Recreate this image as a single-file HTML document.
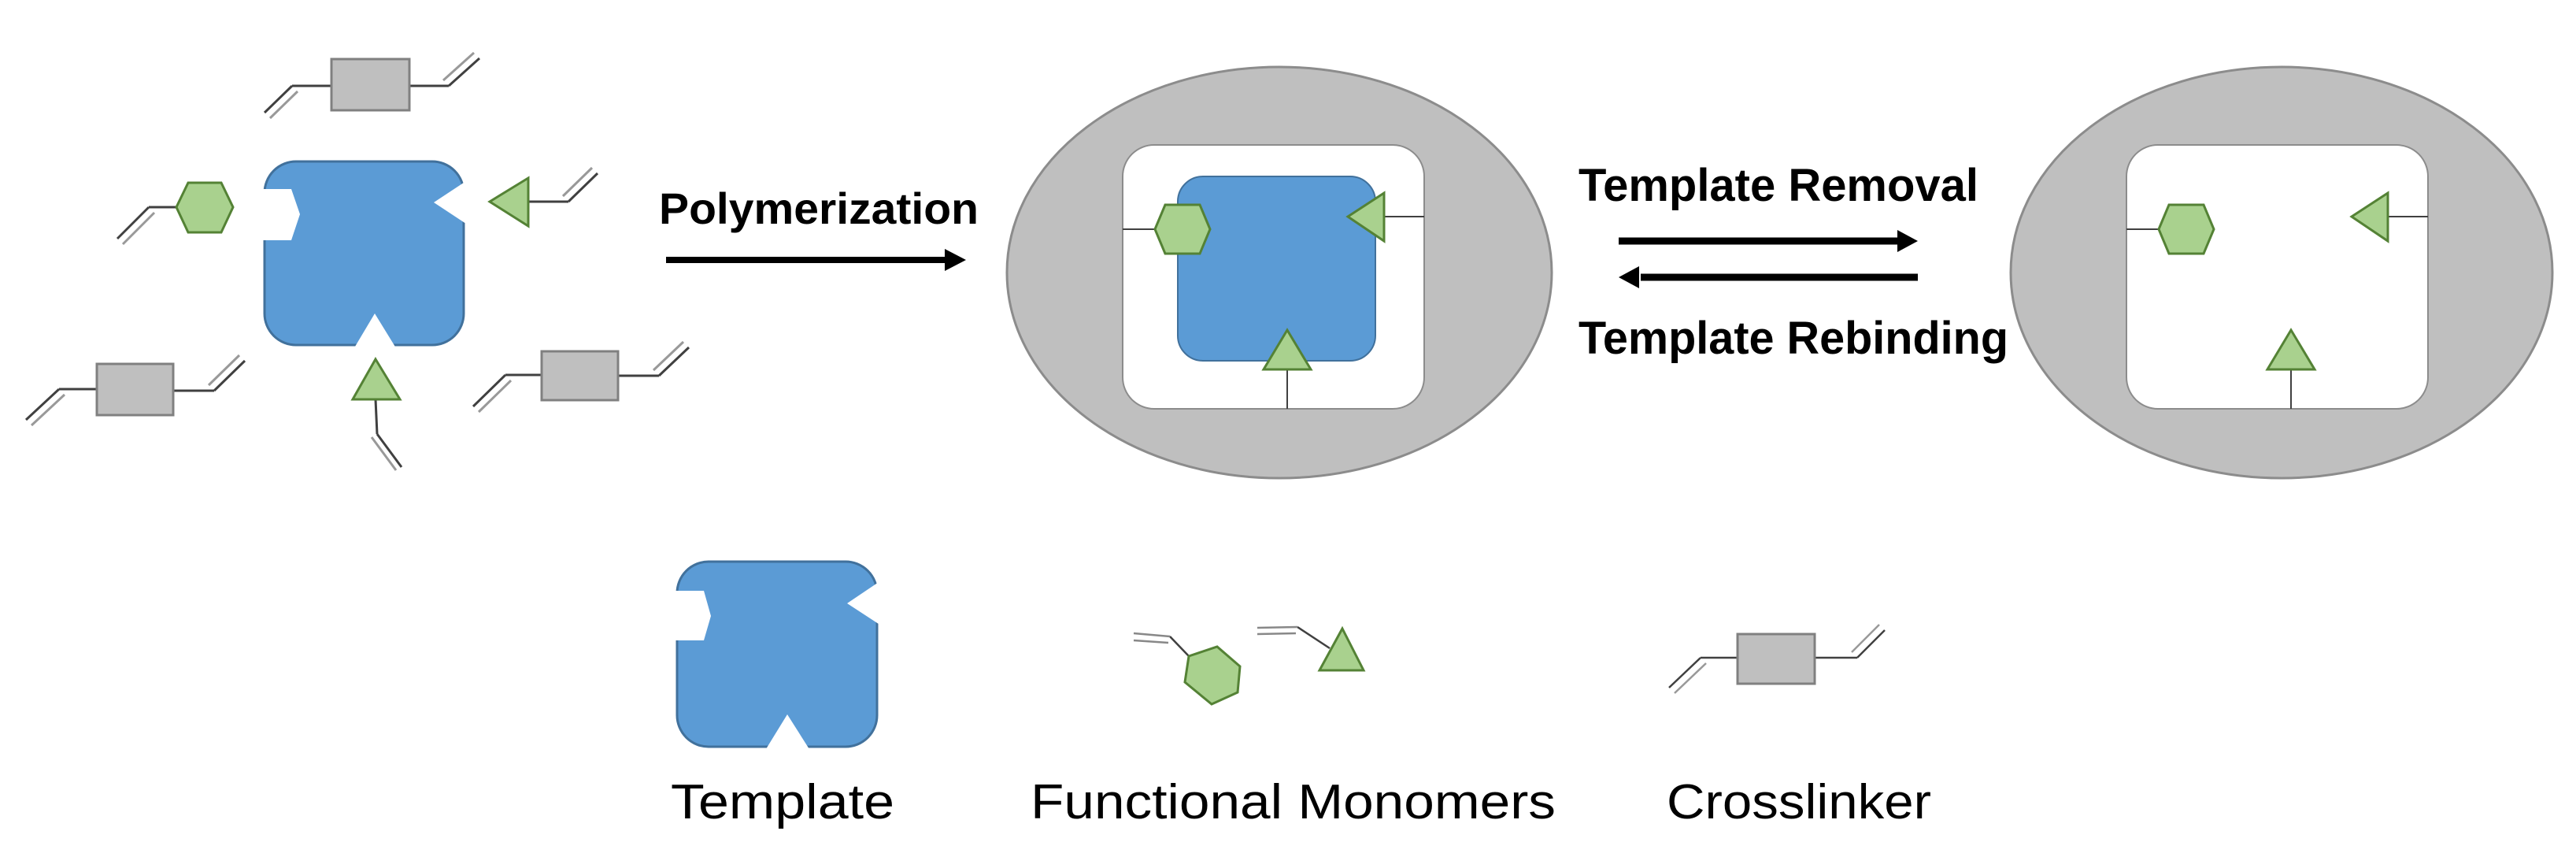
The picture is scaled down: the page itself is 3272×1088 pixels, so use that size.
<!DOCTYPE html>
<html><head><meta charset="utf-8"><style>html,body{margin:0;padding:0;background:#fff}svg{display:block}</style></head>
<body>
<svg width="3272" height="1088" viewBox="0 0 3272 1088" xmlns="http://www.w3.org/2000/svg">
<defs>
<g id="dbl"><line x1="0" y1="0" x2="0" y2="0"/></g>
</defs>
<g stroke="#404040" stroke-width="3" fill="none">
<!-- crosslinker top -->
<polyline points="421,109 371,109"/><line x1="371" y1="109" x2="336" y2="143"/><line x1="378" y1="116" x2="343" y2="150" stroke="#999"/>
<polyline points="520,109 570,109"/><line x1="570" y1="109" x2="609" y2="74"/><line x1="563" y1="102" x2="602" y2="67" stroke="#999"/>
<!-- bottom-left crosslinker -->
<line x1="123" y1="494" x2="75" y2="494"/><line x1="75" y1="494" x2="33" y2="533"/><line x1="82" y1="501" x2="40" y2="540" stroke="#999"/>
<line x1="220" y1="496" x2="272" y2="496"/><line x1="272" y1="496" x2="311" y2="458"/><line x1="265" y1="489" x2="304" y2="451" stroke="#999"/>
<!-- bottom-right crosslinker -->
<line x1="688" y1="476" x2="642" y2="476"/><line x1="642" y1="476" x2="601" y2="516"/><line x1="649" y1="483" x2="608" y2="523" stroke="#999"/>
<line x1="785" y1="477" x2="837" y2="477"/><line x1="837" y1="477" x2="875" y2="441"/><line x1="830" y1="470" x2="868" y2="434" stroke="#999"/>
<!-- hex monomer line -->
<line x1="224" y1="263" x2="189" y2="263"/><line x1="189" y1="263" x2="149" y2="303"/><line x1="196" y1="270" x2="156" y2="310" stroke="#999"/>
<!-- right tri monomer -->
<line x1="671" y1="256" x2="722" y2="256"/><line x1="722" y1="256" x2="759" y2="220"/><line x1="715" y1="249" x2="752" y2="213" stroke="#999"/>
<!-- bottom tri monomer -->
<line x1="477" y1="507" x2="479" y2="551"/><line x1="479" y1="551" x2="510" y2="593"/><line x1="472" y1="555" x2="503" y2="597" stroke="#999"/>
</g>
<!-- crosslinker boxes -->
<g fill="#bfbfbf" stroke="#808080" stroke-width="3">
<rect x="421" y="75" width="99" height="65"/>
<rect x="123" y="462" width="97" height="65"/>
<rect x="688" y="446" width="97" height="62"/>
<rect x="2207" y="805" width="98" height="63"/>
</g>
<!-- main template -->
<rect x="336" y="205" width="253" height="233" rx="40" fill="#5b9bd5" stroke="#41719c" stroke-width="3"/>
<g fill="#fff">
<polygon points="307,272 317,240 370,240 381,272 370,305 317,305"/>
<polygon points="551,257 601,224 601,290"/>
<polygon points="476,398 508,450 445,450"/>
</g>
<g fill="#a9d18e" stroke="#548235" stroke-width="3">
<polygon points="224,263 239,232 281,232 296,263 281,295 239,295"/>
<polygon points="622,256 671,226 671,287"/>
<polygon points="477,456 508,507 448,507"/>
</g>
<!-- Polymerization arrow -->
<text x="837" y="284" font-family="Liberation Sans, sans-serif" font-weight="bold" font-size="56" textLength="406" lengthAdjust="spacingAndGlyphs">Polymerization</text>
<line x1="846" y1="330" x2="1205" y2="330" stroke="#000" stroke-width="8"/>
<polygon points="1227,330 1200,316 1200,344" fill="#000"/>
<!-- ellipse 1 -->
<ellipse cx="1625" cy="346" rx="346" ry="261" fill="#bfbfbf" stroke="#8c8c8c" stroke-width="3"/>
<rect x="1426" y="184" width="383" height="335" rx="40" fill="#fff" stroke="#8c8c8c" stroke-width="2"/>
<rect x="1496" y="224" width="251" height="234" rx="32" fill="#5b9bd5" stroke="#41719c" stroke-width="2"/>
<g stroke="#404040" stroke-width="2"><line x1="1426" y1="291" x2="1467" y2="291"/><line x1="1758" y1="275" x2="1809" y2="275"/><line x1="1635" y1="469" x2="1635" y2="519"/></g>
<g fill="#a9d18e" stroke="#548235" stroke-width="3">
<polygon points="1467,291 1480,260 1524,260 1537,291 1524,322 1480,322"/>
<polygon points="1712,275 1758,245 1758,306"/>
<polygon points="1635,419 1665,469 1605,469"/>
</g>
<!-- reversible arrows -->
<text x="2005" y="255" font-family="Liberation Sans, sans-serif" font-weight="bold" font-size="58" textLength="508" lengthAdjust="spacingAndGlyphs">Template Removal</text>
<line x1="2056" y1="306" x2="2412" y2="306" stroke="#000" stroke-width="9"/>
<polygon points="2436,306 2410,292 2410,320" fill="#000"/>
<line x1="2084" y1="352" x2="2436" y2="352" stroke="#000" stroke-width="9"/>
<polygon points="2056,352 2082,338 2082,366" fill="#000"/>
<text x="2005" y="449" font-family="Liberation Sans, sans-serif" font-weight="bold" font-size="58" textLength="546" lengthAdjust="spacingAndGlyphs">Template Rebinding</text>
<!-- ellipse 2 -->
<ellipse cx="2898" cy="346" rx="344" ry="261" fill="#bfbfbf" stroke="#8c8c8c" stroke-width="3"/>
<rect x="2701" y="184" width="383" height="335" rx="40" fill="#fff" stroke="#8c8c8c" stroke-width="2"/>
<g stroke="#404040" stroke-width="2"><line x1="2701" y1="291" x2="2742" y2="291"/><line x1="3033" y1="275" x2="3084" y2="275"/><line x1="2910" y1="469" x2="2910" y2="519"/></g>
<g fill="#a9d18e" stroke="#548235" stroke-width="3">
<polygon points="2742,291 2755,260 2799,260 2812,291 2799,322 2755,322"/>
<polygon points="2987,275 3033,245 3033,306"/>
<polygon points="2910,419 2940,469 2880,469"/>
</g>
<!-- legend template -->
<rect x="860" y="713" width="254" height="235" rx="40" fill="#5b9bd5" stroke="#41719c" stroke-width="3"/>
<g fill="#fff">
<polygon points="830,782 838,750 894,750 903,782 894,813 838,813"/>
<polygon points="1076,766 1125,733 1125,798"/>
<polygon points="1000,907 1033,959 968,959"/>
</g>
<!-- legend monomers -->
<g stroke="#404040" stroke-width="2.5" fill="none">
<line x1="1510" y1="833" x2="1486" y2="808"/><line x1="1486" y1="808" x2="1440" y2="804" stroke="#888"/><line x1="1484" y1="816" x2="1440" y2="813" stroke="#888"/>
<line x1="1689" y1="823" x2="1648" y2="796"/><line x1="1648" y1="796" x2="1597" y2="797" stroke="#888"/><line x1="1646" y1="804" x2="1597" y2="805" stroke="#888"/>
<!-- legend crosslinker lines -->
<line x1="2207" y1="835" x2="2160" y2="835"/><line x1="2160" y1="835" x2="2120" y2="873"/><line x1="2167" y1="842" x2="2127" y2="880" stroke="#999"/>
<line x1="2305" y1="835" x2="2359" y2="835"/><line x1="2359" y1="835" x2="2394" y2="800"/><line x1="2352" y1="828" x2="2387" y2="793" stroke="#999"/>
</g>
<g fill="#a9d18e" stroke="#548235" stroke-width="3">
<polygon points="1510,833 1546,821 1575,846 1572,879 1539,894 1505,866"/>
<polygon points="1705,798 1732,851 1676,851"/>
</g>
<g fill="#bfbfbf" stroke="#808080" stroke-width="3"><rect x="2207" y="805" width="98" height="63"/></g>
<!-- legend labels -->
<g font-family="Liberation Sans, sans-serif" font-size="62" fill="#000">
<text x="852" y="1039" textLength="284" lengthAdjust="spacingAndGlyphs">Template</text>
<text x="1309" y="1039" textLength="667" lengthAdjust="spacingAndGlyphs">Functional Monomers</text>
<text x="2117" y="1039" textLength="336" lengthAdjust="spacingAndGlyphs">Crosslinker</text>
</g>
</svg>
</body></html>
